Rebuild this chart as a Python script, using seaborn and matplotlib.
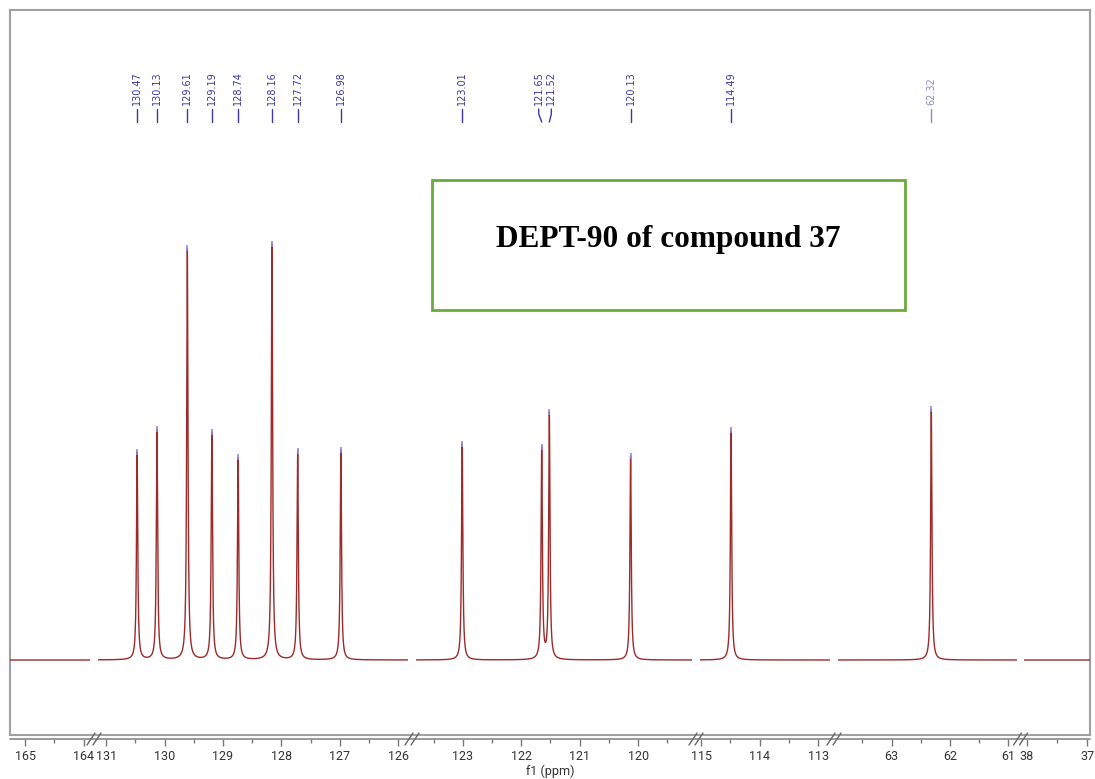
import numpy as np
import matplotlib
matplotlib.use("Agg")
import matplotlib.pyplot as plt
import matplotlib.transforms as mtransforms
from matplotlib.lines import Line2D
from matplotlib.patches import Rectangle
from matplotlib.ticker import MultipleLocator
import seaborn as sns

# ---------------- data ----------------
peak_ppm = [130.47, 130.13, 129.61, 129.19, 128.74, 128.16, 127.72, 126.98,
            123.01, 121.65, 121.52, 120.13, 114.49, 62.32]
peak_int = [50.0, 55.3, 98.8, 54.6, 48.6, 100.0, 50.2, 50.5,
            51.9, 50.7, 59.1, 49.0, 55.3, 60.3]
peak_labels = ["130.47", "130.13", "129.61", "129.19", "128.74", "128.16", "127.72",
               "126.98", "123.01", "121.65", "121.52", "120.13", "114.49", "62.32"]
# displayed ppm ranges of the broken axis (left -> right)
seg_left = [165.26, 131.14, 123.80, 115.02, 63.92, 38.05]
seg_right = [163.89, 125.83, 119.08, 112.80, 60.85, 36.95]
title_text = "DEPT-90 of compound 37"
xlabel = "f1 (ppm)"

# ---------------- layout ----------------
W, H = 1095, 779
seg_px = [(10, 90), (98, 408), (416, 692), (700, 830), (838, 1017), (1024, 1090)]
label_dx_px = {"121.65": -3, "121.52": 2}
hwhm = 0.013
line_color = "#9e2a2b"
lab_color = "#3a3aa2"

sns.set_style("white")
plt.rcParams["font.family"] = ["Roboto", "DejaVu Sans"]

fig = plt.figure(figsize=(W / 100, H / 100), dpi=100)


def fx(px):
    return px / W


def fy(py):
    return 1 - py / H


# frame
frame = fig.add_axes([fx(10), fy(735), fx(1090 - 10), (735 - 10) / H])
frame.set_xticks([])
frame.set_yticks([])
for s in frame.spines.values():
    s.set_color("#a0a0a0")
    s.set_linewidth(1.5)

ax_bottom_py = 739
ax_top_py = 10
baseline_py = 660
unit_px = 416 / 100.0
ylo = -(ax_bottom_py - baseline_py) / unit_px
yhi = (baseline_py - ax_top_py) / unit_px

pk = np.array(peak_ppm)
pi = np.array(peak_int)

for (l, r), (pl, pr) in zip(zip(seg_left, seg_right), seg_px):
    ax = fig.add_axes([fx(pl), fy(ax_bottom_py), fx(pr - pl), (ax_bottom_py - ax_top_py) / H])
    ax.patch.set_alpha(0)
    x = np.linspace(l, r, 6000)
    inside = pk[(pk <= l) & (pk >= r)]
    x = np.sort(np.concatenate([x, inside]))[::-1]
    y = np.zeros_like(x)
    for p, h in zip(pk, pi):
        y += h * hwhm**2 / ((x - p) ** 2 + hwhm**2)
    sns.lineplot(x=x, y=y, ax=ax, sort=False, estimator=None, color=line_color, lw=1.0)
    mask = (pk <= l) & (pk >= r)
    if mask.any():
        tops = []
        for p in pk[mask]:
            tops.append(np.sum(pi * hwhm**2 / ((p - pk) ** 2 + hwhm**2)))
        sns.scatterplot(x=pk[mask], y=np.array(tops), ax=ax, marker="|", s=25,
                        color="#8c8ce0", linewidth=1.2, zorder=3)
        trans = mtransforms.blended_transform_factory(ax.transData, fig.transFigure)
        ppm_per_px = (l - r) / (pr - pl)
        for p, lab in zip(pk[mask], np.array(peak_labels)[mask]):
            lx = p - label_dx_px.get(lab, 0) * ppm_per_px
            col = lab_color if lab != "62.32" else "#8a8acc"
            ax.text(lx, fy(105), lab, rotation=90, ha="center", va="bottom",
                    fontsize=7, color=col, transform=trans, family="DejaVu Sans")
            ax.plot([lx, lx, p], [fy(109), fy(114), fy(122)], color=col, lw=1.0,
                    transform=trans, clip_on=False)
    ax.set_xlim(l, r)
    ax.set_ylim(ylo, yhi)
    ax.set_yticks([])
    for side in ["top", "left", "right", "bottom"]:
        ax.spines[side].set_visible(False)
    ax.xaxis.set_major_locator(MultipleLocator(1))
    ax.xaxis.set_minor_locator(MultipleLocator(0.5))
    ax.xaxis.set_major_formatter(matplotlib.ticker.FormatStrFormatter("%d"))
    ax.tick_params(axis="x", which="major", direction="out", length=5, width=1,
                   color="#777777", labelsize=9, labelcolor="#333333", pad=3, bottom=True)
    ax.tick_params(axis="x", which="minor", direction="out", length=3, width=1,
                   color="#777777", bottom=True)
    ax.set_xlabel("")

# continuous axis line
fig.add_artist(Line2D([fx(10), fx(1090)], [fy(739), fy(739)], color="#888888", lw=1.2))
# break marks
for (pl, pr), (nl, nr) in zip(seg_px[:-1], seg_px[1:]):
    c = (pr + nl) / 2
    for off in (-3, 3):
        fig.add_artist(Line2D([fx(c + off - 4), fx(c + off + 4)], [fy(745), fy(733)],
                              color="#666666", lw=1.0))

fig.text(fx(550), fy(771), xlabel, ha="center", va="center", fontsize=9, color="#333333")

# annotation box
fig.add_artist(Rectangle((fx(432), fy(310)), fx(905 - 432), (310 - 180) / H,
                         fill=False, edgecolor="#6aab3c", lw=2.0, transform=fig.transFigure))
fig.text(fx(668), fy(239), title_text, ha="center", va="center", fontsize=22.5,
         fontweight="bold", family="Liberation Serif", color="black")

fig.savefig("out.png", dpi=100)
